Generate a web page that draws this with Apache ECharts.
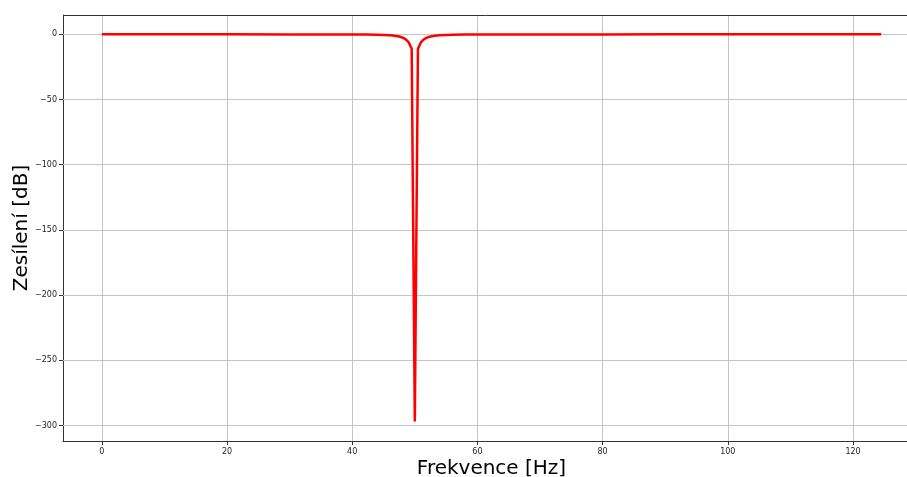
<!DOCTYPE html>
<html>
<head>
<meta charset="utf-8">
<script src="https://cdn.jsdelivr.net/npm/echarts@6/dist/echarts.min.js"></script>
<style>html,body{margin:0;padding:0;background:#fff;}#c{width:907px;height:477px;}</style>
</head>
<body>
<div id="c"></div>
<script>
// Frequency (Hz) and gain (dB)
var freqs = [0, 10, 20, 30, 35, 40, 42, 44, 45, 46, 46.5, 47, 47.5, 48, 48.5, 49, 49.5, 50, 50.5, 51, 51.5, 52, 52.5, 53, 53.5, 54, 55, 56, 58, 60, 65, 70, 80, 90, 100, 110, 124.5];
var gains = [0, -0.01, -0.01, -0.03, -0.05, -0.12, -0.19, -0.34, -0.48, -0.72, -0.92, -1.2, -1.65, -2.4, -3.6, -5.9, -11, -297, -11, -5.9, -3.6, -2.4, -1.65, -1.2, -0.92, -0.72, -0.48, -0.34, -0.19, -0.12, -0.056, -0.03, -0.015, -0.01, -0.006, -0.004, -0.002];
var xTicks = [0, 20, 40, 60, 80, 100, 120];
var yTicks = [0, -50, -100, -150, -200, -250, -300];
var xTitle = 'Frekvence [Hz]';
var yTitle = 'Zesílení [dB]';

var data = freqs.map(function (f, i) { return [f, gains[i]]; });
function fmt(v) { return v < 0 ? '\u2212' + Math.abs(v) : String(v); }

var chart = echarts.init(document.getElementById('c'), null, { renderer: 'canvas' });
chart.setOption({
  animation: false,
  grid: { left: 63, right: -13, top: 15, bottom: 36, containLabel: false, outerBoundsMode: 'none', show: false },
  xAxis: {
    type: 'value', min: -6.2, max: 130.7,
    name: xTitle, nameLocation: 'middle', nameGap: 18, nameMoveOverlap: false,
    nameTextStyle: { fontFamily: 'DejaVu Sans', fontSize: 20, color: '#000' },
    axisLine: { show: true, onZero: false, lineStyle: { color: '#333', width: 1 } },
    axisTick: { show: true, inside: false, length: 4, customValues: xTicks, lineStyle: { color: '#333' } },
    axisLabel: { customValues: xTicks, fontFamily: 'DejaVu Sans', fontSize: 8, color: '#222', margin: 7, formatter: fmt },
    splitLine: { show: false }
  },
  yAxis: {
    type: 'value', min: -311.9, max: 14.85,
    name: yTitle, nameLocation: 'middle', nameGap: 31, nameRotate: 90, nameMoveOverlap: false,
    nameTextStyle: { fontFamily: 'DejaVu Sans', fontSize: 20, color: '#000' },
    axisLine: { show: true, onZero: false, lineStyle: { color: '#333', width: 1 } },
    axisTick: { show: true, inside: false, length: 4, customValues: yTicks, lineStyle: { color: '#333' } },
    axisLabel: { customValues: yTicks, fontFamily: 'DejaVu Sans', fontSize: 8, color: '#222', margin: 6, formatter: fmt },
    splitLine: { show: false }
  },
  series: [
    {
      type: 'line', data: data, showSymbol: false, symbol: 'none',
      lineStyle: { color: '#ff0000', width: 2.5 },
      z: 5,
      markLine: {
        silent: true, symbol: 'none', label: { show: false },
        lineStyle: { color: '#c4c4c4', width: 1, type: 'solid' },
        data: xTicks.map(function (v) { return { xAxis: v }; }).concat(yTicks.map(function (v) { return { yAxis: v }; }))
      }
    },
    {
      type: 'line', data: [], xAxisIndex: 0, yAxisIndex: 0,
      markLine: {
        silent: true, symbol: 'none', label: { show: false },
        lineStyle: { color: '#333', width: 1, type: 'solid' },
        data: [{ yAxis: 14.85 }]
      }
    }
  ]
});
</script>
</body>
</html>
